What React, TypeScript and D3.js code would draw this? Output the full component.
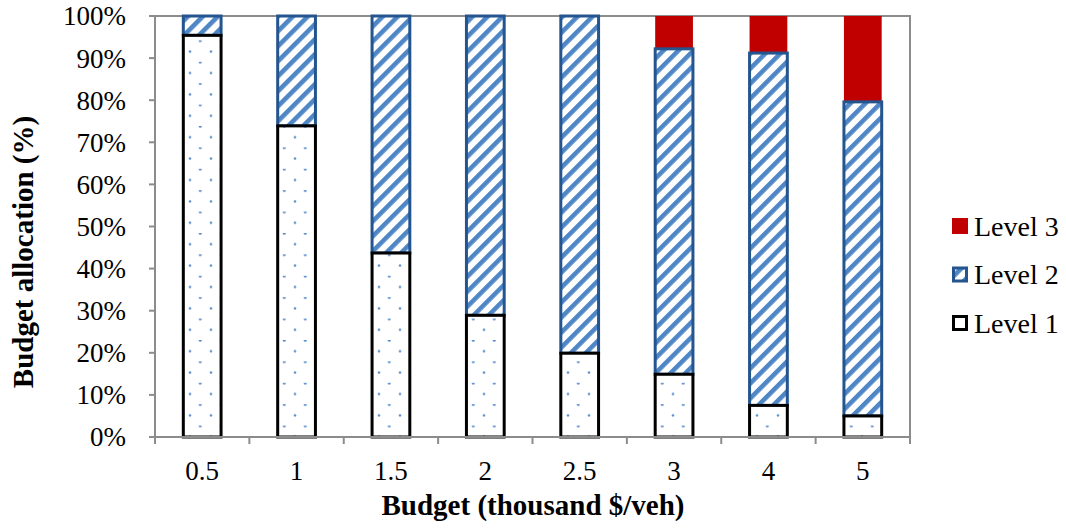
import React, { useEffect, useRef } from 'react';
import * as d3 from 'd3';

const budgets = ['0.5', '1', '1.5', '2', '2.5', '3', '4', '5'];
const level1 = [95.4, 73.9, 43.7, 28.9, 19.9, 14.9, 7.5, 5.0];
const level2 = [4.6, 26.1, 56.3, 71.1, 80.1, 77.3, 83.7, 74.6];
const level3 = [0, 0, 0, 0, 0, 7.8, 8.8, 20.4];
const yTicks = [0, 10, 20, 30, 40, 50, 60, 70, 80, 90, 100];
const legendItems = ['Level 3', 'Level 2', 'Level 1'];

const W = 1066;
const H = 531;
const FONT = '"Liberation Serif", "Times New Roman", serif';

export default function App() {
  const svgRef = useRef<SVGSVGElement>(null);

  useEffect(() => {
    if (!svgRef.current) return;
    const svg = d3.select(svgRef.current);
    svg.selectAll('*').remove();

    const margin = { top: 16, right: 156, bottom: 94, left: 155 };
    const width = W - margin.left - margin.right;
    const height = H - margin.top - margin.bottom;

    // Patterns
    const defs = svg.append('defs');
    const dots = defs.append('pattern')
      .attr('id', 'dots')
      .attr('patternUnits', 'userSpaceOnUse')
      .attr('width', 21)
      .attr('height', 21.4)
      .attr('x', 3)
      .attr('y', 3);
    dots.append('rect').attr('width', 21).attr('height', 21.4).attr('fill', '#ffffff');
    dots.append('circle').attr('cx', 0.5).attr('cy', 0.5).attr('r', 1.3).attr('fill', '#5b8fd0');
    dots.append('circle').attr('cx', 21).attr('cy', 0.5).attr('r', 1.3).attr('fill', '#5b8fd0');
    dots.append('circle').attr('cx', 11).attr('cy', 11.2).attr('r', 1.3).attr('fill', '#5b8fd0');

    // wide upward diagonal
    const stripes = defs.append('pattern')
      .attr('id', 'stripes')
      .attr('patternUnits', 'userSpaceOnUse')
      .attr('width', 10.6)
      .attr('height', 10.6)
      .attr('patternTransform', 'rotate(45)');
    stripes.append('rect').attr('width', 10.6).attr('height', 10.6).attr('fill', '#ffffff');
    stripes.append('rect').attr('width', 4.6).attr('height', 10.6).attr('fill', '#4f86c6');

    const g = svg.append('g')
      .attr('transform', `translate(${margin.left},${margin.top})`);

    const xScale = d3.scaleBand<string>()
      .domain(budgets)
      .range([0, width])
      .paddingInner(0.6)
      .paddingOuter(0.3);

    const yScale = d3.scaleLinear()
      .domain([0, 100])
      .range([height, 0]);

    // Plot border (top and right)
    g.append('path')
      .attr('d', `M-6,0H${width}V${height}`)
      .attr('fill', 'none')
      .attr('stroke', '#8c8c8c')
      .attr('stroke-width', 2);

    // Bars
    const bw = xScale.bandwidth();
    budgets.forEach((b, i) => {
      const x = xScale(b) as number;
      const b1 = level1[i];
      const b2 = b1 + level2[i];
      const b3 = b2 + level3[i];

      if (level3[i] > 0) {
        g.append('rect')
          .attr('x', x)
          .attr('y', yScale(b3))
          .attr('width', bw)
          .attr('height', yScale(b2) - yScale(b3))
          .attr('fill', '#c00000');
      }

      g.append('rect')
        .attr('x', x)
        .attr('y', yScale(b2))
        .attr('width', bw)
        .attr('height', yScale(b1) - yScale(b2))
        .attr('fill', 'url(#stripes)')
        .attr('stroke', '#24558f')
        .attr('stroke-width', 3);

      g.append('rect')
        .attr('x', x)
        .attr('y', yScale(b1))
        .attr('width', bw)
        .attr('height', yScale(0) - yScale(b1))
        .attr('fill', 'url(#dots)')
        .attr('stroke', '#000000')
        .attr('stroke-width', 3);
    });

    // X-axis
    const xAxis = g.append('g')
      .attr('transform', `translate(0,${height})`);
    xAxis.append('line')
      .attr('x1', -6).attr('x2', width)
      .attr('stroke', '#8c8c8c').attr('stroke-width', 2);
    d3.range(budgets.length + 1).forEach(i => {
      const tx = (width / budgets.length) * i;
      xAxis.append('line')
        .attr('x1', tx).attr('x2', tx)
        .attr('y1', 0).attr('y2', 7)
        .attr('stroke', '#8c8c8c').attr('stroke-width', 2);
    });
    budgets.forEach(b => {
      xAxis.append('text')
        .attr('x', (xScale(b) as number) + bw / 2)
        .attr('y', 480 - margin.top - height)
        .attr('text-anchor', 'middle')
        .attr('font-family', FONT)
        .attr('font-size', 27)
        .attr('fill', '#000')
        .text(b);
    });

    // Y-axis
    const yAxis = g.append('g');
    yAxis.append('line')
      .attr('y1', 0).attr('y2', height)
      .attr('stroke', '#8c8c8c').attr('stroke-width', 2);
    yTicks.forEach(t => {
      yAxis.append('line')
        .attr('x1', -6).attr('x2', 0)
        .attr('y1', yScale(t)).attr('y2', yScale(t))
        .attr('stroke', '#8c8c8c').attr('stroke-width', 2);
      yAxis.append('text')
        .attr('x', -29)
        .attr('y', yScale(t))
        .attr('dy', '0.35em')
        .attr('text-anchor', 'end')
        .attr('font-family', FONT)
        .attr('font-size', 27)
        .attr('fill', '#000')
        .text(`${t}%`);
    });

    // Axis titles
    svg.append('text')
      .attr('x', 533)
      .attr('y', 515)
      .attr('text-anchor', 'middle')
      .attr('font-family', FONT)
      .attr('font-size', 29)
      .attr('font-weight', 'bold')
      .text('Budget (thousand $/veh)');

    svg.append('text')
      .attr('transform', `translate(33,252) rotate(-90)`)
      .attr('text-anchor', 'middle')
      .attr('font-family', FONT)
      .attr('font-size', 29)
      .attr('font-weight', 'bold')
      .text('Budget allocation (%)');

    // Legend
    const legend = svg.append('g').attr('transform', 'translate(952, 226)');
    legendItems.forEach((name, i) => {
      const row = legend.append('g').attr('transform', `translate(0, ${i * 48.5})`);
      if (name === 'Level 3') {
        row.append('rect').attr('x', 0).attr('y', -8).attr('width', 16).attr('height', 16).attr('fill', '#c00000');
      } else if (name === 'Level 2') {
        row.append('rect').attr('x', 1.5).attr('y', -6.5).attr('width', 13).attr('height', 13)
          .attr('fill', 'url(#stripes)').attr('stroke', '#24558f').attr('stroke-width', 3);
      } else {
        row.append('rect').attr('x', 1.5).attr('y', -6.5).attr('width', 13).attr('height', 13)
          .attr('fill', '#ffffff').attr('stroke', '#000').attr('stroke-width', 3);
      }
      row.append('text')
        .attr('x', 22)
        .attr('y', 0)
        .attr('dy', '0.35em')
        .attr('font-family', FONT)
        .attr('font-size', 28)
        .attr('fill', '#000')
        .text(name);
    });
  }, []);

  return (
    <div style={{ position: 'absolute', left: 0, top: 0 }}>
      <svg ref={svgRef} width={W} height={H} style={{ display: 'block', background: '#fff' }} />
    </div>
  );
}
